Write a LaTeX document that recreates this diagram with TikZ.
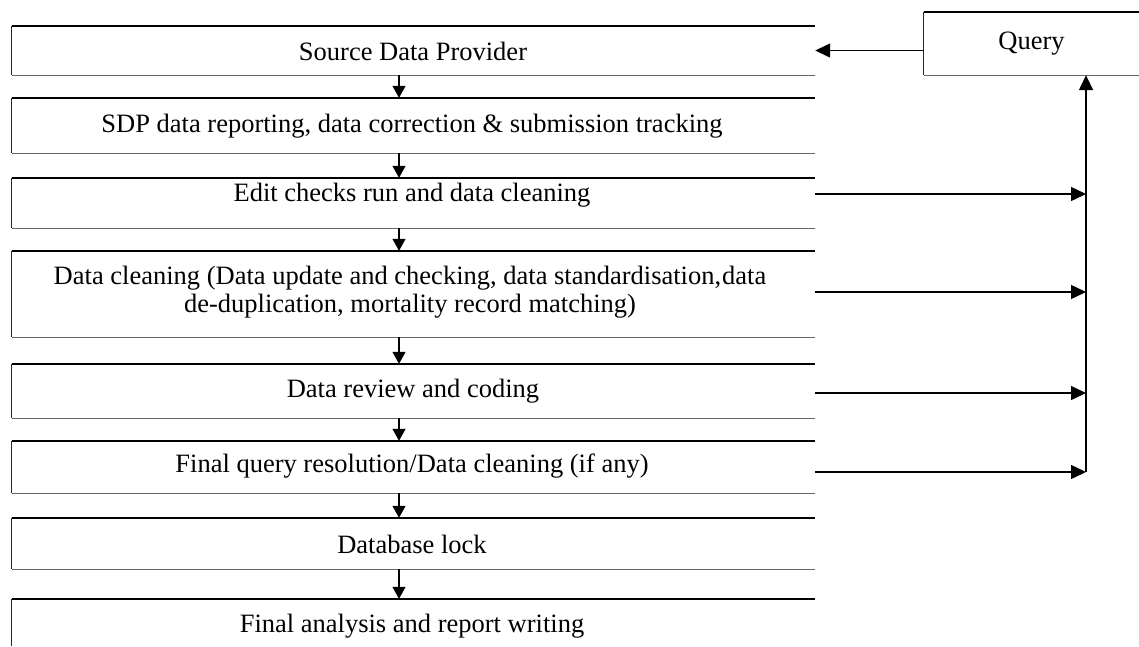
\documentclass[tikz,border=0pt]{standalone}
\usepackage{fontspec}
\setmainfont{Liberation Serif}
\usetikzlibrary{arrows.meta}
\begin{document}
\begin{tikzpicture}[x=1pt,y=-1pt,
  boxn/.style={draw=none,inner sep=0pt,minimum width=803pt},
  qbox/.style={draw=none,inner sep=0pt,minimum width=215pt,minimum height=63pt,font=\fontsize{26.5}{30}\selectfont},
  txt/.style={inner sep=0pt,font=\fontsize{26.5}{30}\selectfont},
  topl/.style={line width=1.4pt,black},
  leftl/.style={line width=1pt,black!85},
  botl/.style={line width=0.9pt,black!60},
  varr/.style={line width=1.3pt,-{Triangle[length=12pt,width=13pt]}},
  harr/.style={line width=1.4pt,-{Triangle[length=15pt,width=14pt]}}]
\useasboundingbox (0,0) rectangle (1139,646);
\fill[white] (0,0) rectangle (1139,646);
% boxes
\node[boxn,minimum height=49pt] (b1) at (413.5,50.5) {};
\node[boxn,minimum height=55pt] (b2) at (413.5,125.5) {};
\node[boxn,minimum height=50pt] (b3) at (413.5,203) {};
\node[boxn,minimum height=86pt] (b4) at (413.5,294) {};
\node[boxn,minimum height=54pt] (b5) at (413.5,391) {};
\node[boxn,minimum height=52pt] (b6) at (413.5,467) {};
\node[boxn,minimum height=51pt] (b7) at (413.5,543.5) {};
\node[boxn,minimum height=47pt] (b8) at (413.5,622.5) {};
\foreach \b in {b1,b2,b3,b4,b5,b6,b7}{
  \draw[topl] (\b.north west) -- (\b.north east);
  \draw[leftl] (\b.north west) -- (\b.south west);
  \draw[botl] (\b.south west) -- (\b.south east);
}
\draw[topl] (b8.north west) -- (b8.north east);
\draw[leftl] (b8.north west) -- (b8.south west);
% texts
\node[txt] (t1) at (413,51) {Source Data Provider};
\node[txt] (t2) at (412,126) {SDP data reporting, data correction \& submission tracking};
\node[txt] (t3) at (412,195) {Edit checks run and data cleaning};
\node[txt] (t4a) at (410,278) {Data cleaning (Data update and checking, data standardisation,\hspace{1pt}data};
\node[txt] (t4b) at (410,306) {de-duplication, mortality record matching)};
\node[txt] (t5) at (413,391) {Data review and coding};
\node[txt] (t6) at (412,466) {Final query resolution/Data cleaning (if any)};
\node[txt] (t7) at (412,544) {Database lock};
\node[txt] (t8) at (412,626) {Final analysis and report writing};
% query box
\node[qbox] (q) at (1031.5,43.5) {Query};
\draw[topl] (q.north west) -- (q.north east);
\draw[leftl] (q.north west) -- (q.south west);
\draw[botl] (q.south west) -- (q.south east);
% vertical flow arrows
\coordinate (ax) at (399,0);
\draw[varr] (b1.south -| ax) -- (b2.north -| ax);
\draw[varr] (b2.south -| ax) -- (b3.north -| ax);
\draw[varr] (b3.south -| ax) -- (b4.north -| ax);
\draw[varr] (b4.south -| ax) -- (b5.north -| ax);
\draw[varr] (b5.south -| ax) -- (b6.north -| ax);
\draw[varr] (b6.south -| ax) -- (b7.north -| ax);
\draw[varr] (b7.south -| ax) -- (b8.north -| ax);
% feedback loop
\coordinate (vx) at (1086,0);
\coordinate (h3) at ([yshift=9pt]b3.east);
\coordinate (h4) at ([yshift=2pt]b4.east);
\coordinate (h5) at ([yshift=-2pt]b5.east);
\coordinate (h6) at ([yshift=-5pt]b6.east);
\draw[harr] (h3) -- (h3 -| vx);
\draw[harr] (h4) -- (h4 -| vx);
\draw[harr] (h5) -- (h5 -| vx);
\draw[harr] (h6) -- (h6 -| vx);
\draw[line width=1.5pt,-{Triangle[length=15pt,width=14pt]}] (h6 -| vx) -- (q.south -| vx);
\draw[harr] ([yshift=-7pt]q.west) -- (b1.east);
\end{tikzpicture}
\end{document}
